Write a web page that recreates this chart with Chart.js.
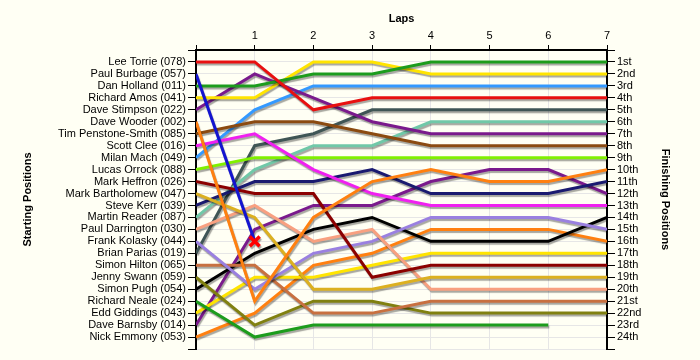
<!DOCTYPE html>
<html>
<head>
<meta charset="utf-8">
<script src="https://cdn.jsdelivr.net/npm/chart.js@4"></script>
<style>
  body { margin: 0; background: #fffff4; }
  #wrap { width: 700px; height: 360px; }
</style>
</head>
<body>
<div id="wrap"><canvas id="lapChart" width="700" height="360"></canvas></div>
<script>
// lap chart - position of each driver after every lap
var laps = [0, 1, 2, 3, 4, 5, 6, 7];

var drivers = [
    "Lee Torrie (078)", "Paul Burbage (057)", "Dan Holland (011)", "Richard Amos (041)",
    "Dave Stimpson (022)", "Dave Wooder (002)", "Tim Penstone-Smith (085)", "Scott Clee (016)",
    "Milan Mach (049)", "Lucas Orrock (088)", "Mark Heffron (026)", "Mark Bartholomew (047)",
    "Steve Kerr (039)", "Martin Reader (087)", "Paul Darrington (030)", "Frank Kolasky (044)",
    "Brian Parias (019)", "Simon Hilton (065)", "Jenny Swann (059)", "Simon Pugh (054)",
    "Richard Neale (024)", "Edd Giddings (043)", "Dave Barnsby (014)", "Nick Emmony (053)"
];

var finishLabels = ["1st", "2nd", "3rd", "4th", "5th", "6th", "7th", "8th", "9th", "10th",
    "11th", "12th", "13th", "14th", "15th", "16th", "17th", "18th", "19th", "20th",
    "21st", "22nd", "23rd", "24th"];

// positions per lap (0..7), null = not running
var positions = [
    [1, 1, 5, 4, 4, 4, 4, 4],
    [2, 16, null, null, null, null, null, null],
    [3, 3, 2, 2, 1, 1, 1, 1],
    [4, 4, 1, 1, 2, 2, 2, 2],
    [5, 2, 4, 6, 7, 7, 7, 7],
    [6, 21, 14, 11, 10, 11, 11, 10],
    [7, 6, 6, 7, 8, 8, 8, 8],
    [8, 7, 10, 12, 13, 13, 13, 13],
    [9, 5, 3, 3, 3, 3, 3, 3],
    [10, 9, 9, 9, 9, 9, 9, 9],
    [11, 12, 12, 19, 18, 18, 18, 18],
    [12, 14, 20, 20, 19, 19, 19, 19],
    [13, 11, 11, 10, 12, 12, 12, 11],
    [14, 10, 8, 8, 6, 6, 6, 6],
    [15, 13, 16, 15, 20, 20, 20, 20],
    [16, 20, 17, 16, 14, 14, 14, 15],
    [17, 8, 7, 5, 5, 5, 5, 5],
    [18, 18, 22, 22, 21, 21, 21, 21],
    [19, 23, 21, 21, 22, 22, 22, 22],
    [20, 17, 15, 14, 16, 16, 16, 14],
    [21, 24, 23, 23, 23, 23, 23, null],
    [22, 19, 19, 18, 17, 17, 17, 17],
    [23, 15, 13, 13, 11, 10, 10, 12],
    [24, 22, 18, 17, 15, 15, 15, 16]
];

var retiredDriver = 1; // Paul Burbage, crashed out on lap 1

var colours = [
    "#e81010", "#1414d0", "#1c9c1c", "#ffe400", "#7a1a8c", "#ff8010",
    "#8b4a10", "#f020f0", "#3399ff", "#80f000", "#8b0000", "#dcb020",
    "#1a1a70", "#70c8a8", "#f8a080", "#9a80e0", "#3f5555", "#c87040",
    "#808010", "#000000", "#1c9c1c", "#ffe400", "#7a1a8c", "#ff8010"
];

var datasets = [];
for (var i = 0; i < drivers.length; i++) {
    var pts = [];
    for (var j = 0; j < laps.length; j++) {
        if (positions[i][j] != null) pts.push({x: laps[j], y: positions[i][j]});
    }
    var radius = pts.map(function(p, k) {
        return (i == retiredDriver && k == pts.length - 1) ? 7 : 0;
    });
    datasets.push({
        label: drivers[i],
        data: pts,
        borderColor: colours[i],
        borderWidth: 3,
        tension: 0,
        pointRadius: radius,
        pointStyle: "crossRot",
        pointBorderColor: "#ff0000",
        pointBorderWidth: 3.5
    });
}

// soft shadow under the lines
var shadowPlugin = {
    id: "shadow",
    beforeDatasetsDraw: function(chart) {
        var ctx = chart.ctx;
        ctx.save();
        ctx.shadowColor = "rgba(0,0,0,0.35)";
        ctx.shadowOffsetX = 1;
        ctx.shadowOffsetY = 2;
        ctx.shadowBlur = 1;
    },
    afterDatasetsDraw: function(chart) {
        chart.ctx.restore();
    }
};

Chart.defaults.font.family = "'Liberation Sans', Arial, sans-serif";
Chart.defaults.font.size = 11;
Chart.defaults.color = "#000";

var ctx = document.getElementById("lapChart").getContext("2d");
var lapChart = new Chart(ctx, {
    type: "line",
    data: { datasets: datasets },
    plugins: [shadowPlugin],
    options: {
        responsive: false,
        animation: false,
        layout: { padding: { left: 0, right: 0, top: 0, bottom: 11 } },
        plugins: { legend: { display: false }, tooltip: { enabled: false } },
        scales: {
            x: {
                type: "linear",
                position: "top",
                min: 0,
                max: 7,
                afterFit: function(s) { s.height = 50; },
                ticks: {
                    stepSize: 1,
                    padding: 2,
                    maxRotation: 0,
                    callback: function(v) { return v == 0 ? "" : v; }
                },
                grid: { color: "#e6e6e6", tickColor: "#000", tickLength: 5 },
                border: { color: "#000", width: 2 },
                title: {
                    display: true,
                    text: "Laps",
                    font: { weight: "bold", size: 11 },
                    padding: { top: 12, bottom: 0 }
                }
            },
            y: {
                type: "linear",
                position: "left",
                reverse: true,
                min: 0,
                max: 25,
                afterFit: function(s) { s.width = 196; },
                ticks: {
                    stepSize: 1,
                    autoSkip: false,
                    padding: 2,
                    callback: function(v) { return drivers[v - 1] || ""; }
                },
                grid: { color: "#e6e6e6", tickColor: "#000", tickLength: 8 },
                border: { color: "#000", width: 2 },
                title: {
                    display: true,
                    text: "Starting Positions",
                    font: { weight: "bold", size: 11 },
                    padding: { top: 21, bottom: 0 }
                }
            },
            y2: {
                type: "linear",
                position: "right",
                reverse: true,
                min: 0,
                max: 25,
                afterFit: function(s) { s.width = 93; },
                ticks: {
                    stepSize: 1,
                    autoSkip: false,
                    padding: 2,
                    callback: function(v) { return finishLabels[v - 1] || ""; }
                },
                grid: { drawOnChartArea: false, tickColor: "#000", tickLength: 8 },
                border: { color: "#000", width: 2 },
                title: {
                    display: true,
                    text: "Finishing Positions",
                    font: { weight: "bold", size: 11 },
                    padding: { top: 28, bottom: 0 }
                }
            }
        }
    }
});
</script>
</body>
</html>
